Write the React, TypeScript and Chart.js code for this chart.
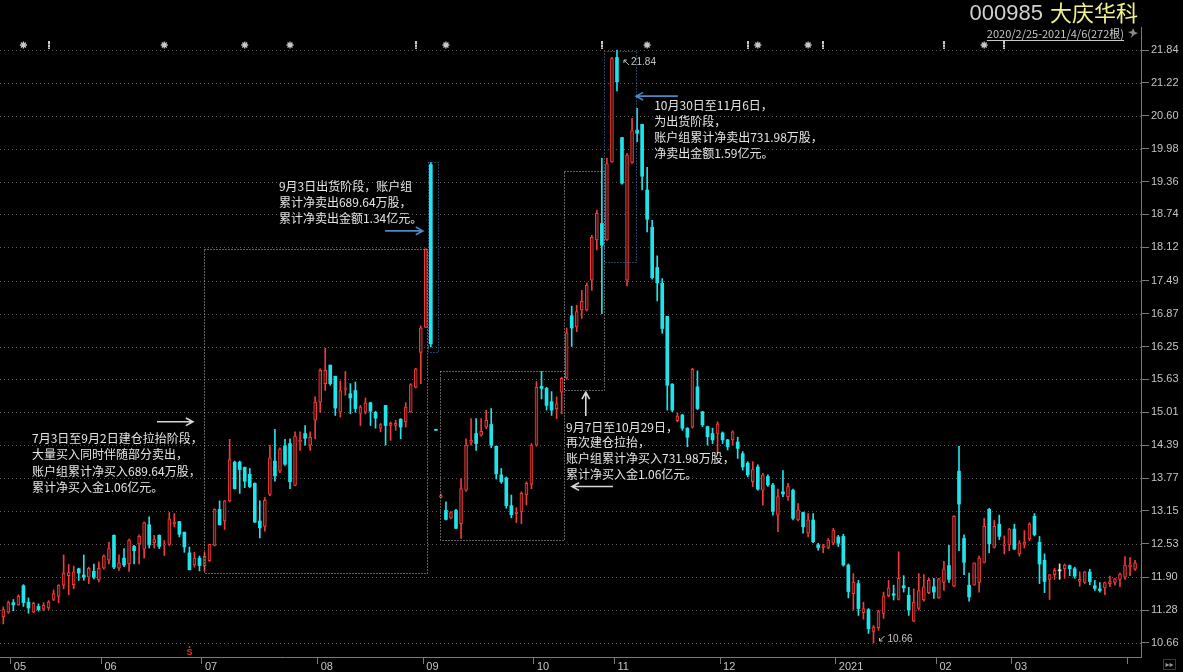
import React, { useEffect, useRef } from 'react';
import { Chart, registerables } from 'chart.js';

Chart.register(...registerables);

// ---------- data (daily candles, 2020-04-29 .. 2021-04-02) ----------
const opens = [
  11.15, 11.24, 11.42, 11.38, 11.74, 11.43, 11.24, 11.35, 11.30, 11.32,
  11.48, 11.54, 11.75, 11.93, 11.76, 12.06, 11.94, 11.90, 12.01, 11.85,
  12.07, 12.22, 12.69, 12.07, 12.26, 12.15, 12.48, 12.53, 12.43, 12.89,
  12.55, 12.69, 12.51, 12.52, 12.91, 12.95, 12.75, 12.36, 12.13, 12.26,
  12.11, 12.21, 12.50, 13.18, 12.96, 13.34, 14.07, 14.07, 13.97, 13.84,
  13.67, 12.96, 12.86, 13.46, 14.09, 13.90, 14.38, 14.42, 13.63, 14.45,
  14.61, 14.39, 14.86, 15.20, 15.55, 15.90, 15.69, 15.01, 15.44, 15.36,
  15.42, 14.99, 15.01, 15.19, 15.01, 14.71, 15.14, 14.76, 14.76, 14.88,
  14.83, 15.01, 15.48, 16.14, 16.61, 19.68, 14.69, 13.41, 13.16, 13.02,
  13.16, 12.91, 13.54, 14.44, 14.61, 14.58, 14.73, 14.78, 14.37, 13.83,
  13.77, 13.25, 13.10, 13.13, 13.45, 13.65, 14.39, 15.50, 15.46, 15.21,
  15.08, 15.39, 15.66, 16.83, 16.62, 16.94, 16.94, 17.50, 18.26, 18.57,
  18.26, 19.73, 21.70, 20.19, 17.50, 19.72, 20.33, 20.44, 19.20, 18.50,
  17.74, 17.44, 16.82, 15.54, 14.85, 14.96, 14.71, 14.73, 15.49, 15.02,
  14.74, 14.61, 14.61, 14.62, 14.49, 14.49, 14.45, 14.23, 14.05, 13.70,
  13.98, 13.54, 13.80, 13.64, 13.07, 13.51, 13.42, 13.54, 12.98, 13.12,
  12.73, 12.98, 12.51, 12.46, 12.46, 12.54, 12.66, 12.67, 12.13, 11.59,
  11.78, 11.23, 11.29, 10.88, 10.95, 11.22, 11.55, 11.59, 11.48, 11.74,
  11.56, 11.07, 11.31, 11.47, 11.61, 11.72, 11.51, 11.80, 12.12, 11.73,
  13.90, 12.63, 11.75, 11.75, 11.80, 12.18, 13.18, 12.46, 12.90, 12.50,
  12.51, 12.81, 12.34, 12.52, 12.62, 13.05, 12.56, 12.22, 11.86, 11.95,
  12.02, 12.06, 12.12, 12.06, 11.82, 11.80, 12.00, 11.74, 11.68, 11.70,
  11.78, 11.80, 11.86, 11.90, 12.10, 12.05,
];
const highs = [
  11.34, 11.45, 11.48, 11.57, 11.76, 11.51, 11.43, 11.40, 11.42, 11.46,
  11.66, 11.76, 12.32, 12.14, 12.11, 12.07, 12.32, 12.09, 12.15, 12.19,
  12.32, 12.56, 12.70, 12.32, 12.44, 12.62, 12.50, 12.70, 12.94, 13.04,
  12.69, 12.70, 12.59, 13.12, 13.10, 12.95, 12.75, 12.47, 12.37, 12.30,
  12.37, 12.52, 13.19, 13.34, 13.35, 14.50, 14.09, 14.09, 13.98, 13.95,
  13.68, 13.34, 13.40, 14.39, 14.69, 14.34, 14.50, 14.51, 14.64, 14.64,
  14.76, 14.64, 15.30, 15.83, 16.22, 15.90, 15.69, 15.60, 15.78, 15.55,
  15.58, 15.14, 15.28, 15.20, 15.03, 14.80, 15.14, 14.83, 14.86, 14.89,
  15.19, 15.55, 15.84, 16.64, 18.09, 19.72, 14.69, 13.47, 13.32, 13.14,
  13.18, 13.76, 14.51, 14.89, 14.89, 14.89, 15.05, 15.08, 14.37, 13.95,
  13.79, 13.45, 13.21, 13.51, 13.70, 14.42, 15.59, 15.78, 15.48, 15.40,
  15.30, 15.67, 16.60, 17.01, 17.03, 17.31, 17.45, 18.35, 18.82, 19.80,
  19.80, 21.70, 21.84, 20.19, 19.89, 20.55, 20.74, 20.44, 19.63, 18.63,
  17.96, 17.53, 16.82, 15.55, 15.00, 14.97, 14.72, 15.84, 15.79, 15.03,
  14.75, 14.71, 14.83, 14.64, 14.50, 14.66, 14.54, 14.27, 14.08, 14.08,
  14.02, 13.86, 13.83, 13.67, 13.56, 13.91, 13.67, 13.56, 13.29, 13.13,
  13.10, 13.10, 12.54, 12.52, 12.63, 12.82, 12.69, 12.71, 12.15, 11.97,
  11.84, 11.43, 11.31, 10.99, 11.28, 11.62, 11.84, 11.75, 12.38, 11.93,
  11.71, 11.68, 11.97, 11.95, 11.88, 11.88, 11.88, 12.20, 12.50, 13.06,
  14.37, 12.70, 11.98, 12.17, 12.30, 13.01, 13.20, 12.97, 13.07, 12.68,
  12.82, 12.90, 12.59, 12.78, 12.93, 13.10, 12.67, 12.34, 11.95, 12.07,
  12.15, 12.15, 12.13, 12.09, 12.00, 12.01, 12.05, 11.84, 11.80, 11.81,
  11.92, 11.88, 11.98, 12.29, 12.27, 12.22,
];
const lows = [
  11.02, 11.22, 11.27, 11.37, 11.35, 11.22, 11.23, 11.26, 11.27, 11.29,
  11.46, 11.42, 11.68, 11.57, 11.68, 11.84, 11.84, 11.78, 11.87, 11.81,
  12.05, 12.15, 12.06, 12.03, 12.10, 12.01, 12.15, 12.15, 12.26, 12.45,
  12.45, 12.44, 12.31, 12.50, 12.85, 12.66, 12.37, 12.04, 12.09, 12.02,
  12.02, 12.20, 12.49, 12.88, 12.80, 13.32, 13.56, 13.48, 13.59, 13.59,
  12.93, 12.64, 12.77, 13.44, 13.71, 13.87, 14.01, 13.57, 13.62, 14.29,
  14.39, 14.29, 14.51, 15.01, 15.42, 15.52, 14.95, 14.92, 15.33, 14.98,
  15.01, 14.76, 14.98, 14.76, 14.71, 14.64, 14.39, 14.48, 14.67, 14.51,
  14.73, 15.01, 15.47, 15.55, 16.61, 16.24, 14.67, 13.40, 12.98, 13.00,
  12.82, 12.63, 13.52, 14.39, 14.29, 14.56, 14.70, 14.34, 13.75, 13.67,
  13.20, 13.02, 12.93, 12.91, 13.26, 13.57, 14.37, 15.26, 15.05, 14.95,
  14.89, 14.98, 15.63, 16.25, 16.53, 16.78, 16.92, 17.31, 18.07, 16.87,
  18.25, 19.72, 21.07, 19.31, 17.39, 19.70, 20.11, 19.20, 18.41, 17.52,
  17.11, 16.50, 15.05, 15.02, 14.83, 14.67, 14.36, 14.71, 15.06, 14.74,
  14.39, 14.42, 14.23, 14.42, 14.30, 14.39, 14.14, 13.92, 13.79, 13.61,
  13.54, 13.26, 13.61, 13.07, 12.76, 13.42, 13.35, 12.98, 12.96, 12.73,
  12.66, 12.55, 12.41, 12.36, 12.44, 12.51, 12.48, 12.11, 11.51, 11.28,
  11.18, 11.11, 10.84, 10.66, 10.90, 11.12, 11.53, 11.47, 11.47, 11.62,
  11.18, 11.06, 11.28, 11.45, 11.59, 11.50, 11.50, 11.65, 11.80, 11.72,
  12.40, 11.95, 11.45, 11.75, 11.62, 12.17, 12.36, 12.45, 12.61, 12.34,
  12.40, 12.42, 12.30, 12.45, 12.59, 12.68, 11.78, 11.61, 11.48, 11.86,
  11.86, 11.88, 11.93, 11.88, 11.73, 11.78, 11.76, 11.65, 11.62, 11.57,
  11.72, 11.75, 11.72, 11.86, 11.93, 12.03,
];
const closes = [
  11.29, 11.42, 11.38, 11.54, 11.42, 11.32, 11.41, 11.29, 11.37, 11.43,
  11.59, 11.75, 11.98, 11.99, 12.00, 11.98, 11.90, 12.07, 11.90, 12.07,
  12.30, 12.44, 12.09, 12.17, 12.13, 12.60, 12.40, 12.67, 12.93, 12.51,
  12.61, 12.48, 12.53, 13.00, 12.94, 12.71, 12.47, 12.04, 12.26, 12.12,
  12.30, 12.52, 13.18, 12.89, 13.34, 14.12, 13.57, 13.93, 13.71, 13.61,
  12.94, 12.83, 13.35, 14.15, 13.81, 14.32, 14.03, 13.70, 14.56, 14.48,
  14.52, 14.54, 15.20, 15.80, 15.80, 15.55, 15.09, 15.42, 15.47, 15.28,
  15.08, 15.11, 15.19, 15.03, 14.90, 14.78, 14.76, 14.80, 14.80, 14.73,
  15.11, 15.53, 15.83, 16.60, 18.09, 16.30, 14.67, 13.44, 12.99, 13.12,
  12.82, 13.57, 14.39, 14.48, 14.42, 14.65, 14.86, 14.39, 13.85, 13.70,
  13.25, 13.08, 13.13, 13.48, 13.67, 14.39, 15.48, 15.46, 15.14, 15.05,
  15.17, 15.65, 16.51, 16.60, 16.91, 17.10, 17.41, 18.31, 18.76, 18.16,
  19.70, 21.68, 21.24, 19.33, 19.86, 20.32, 20.27, 19.46, 18.65, 17.55,
  17.45, 16.59, 15.52, 15.05, 14.94, 14.71, 14.54, 15.82, 15.08, 14.77,
  14.55, 14.49, 14.79, 14.49, 14.36, 14.64, 14.33, 13.98, 13.83, 13.93,
  13.56, 13.83, 13.64, 13.14, 13.42, 13.47, 13.61, 13.01, 13.17, 12.85,
  12.98, 12.57, 12.46, 12.49, 12.60, 12.79, 12.54, 12.13, 11.63, 11.81,
  11.31, 11.31, 10.93, 10.96, 11.25, 11.55, 11.70, 11.56, 11.88, 11.70,
  11.28, 11.43, 11.65, 11.72, 11.84, 11.62, 11.87, 12.06, 11.86, 13.05,
  13.28, 12.18, 11.53, 12.17, 12.26, 12.86, 12.53, 12.86, 12.67, 12.53,
  12.81, 12.43, 12.55, 12.56, 12.90, 12.70, 12.15, 11.82, 11.95, 12.03,
  12.02, 12.13, 12.06, 11.92, 11.86, 12.00, 11.82, 11.69, 11.65, 11.80,
  11.82, 11.87, 11.96, 12.13, 12.13, 12.17,
];

const priceTicks = [21.84, 21.22, 20.6, 19.98, 19.36, 18.74, 18.12, 17.49, 16.87, 16.25, 15.63, 15.01, 14.39, 13.77, 13.15, 12.53, 11.9, 11.28, 10.66];
const monthTickIdx = [1.5, 19.5, 39.5, 62.5, 83.5, 105.5, 121.5, 142.5, 165.5, 185.5, 200.5, 223.5];
const monthTickLabels = ['05', '06', '07', '08', '09', '10', '11', '12', '2021', '02', '03', ''];
const starMarkerIdx = [4, 32, 48, 57, 88, 128, 150, 160, 195];
const barMarkerIdx = [9, 82, 119, 148, 163, 187, 199];
const sellSignalIdx = [37];

const stockCode = '000985';
const stockName = '大庆华科';
const rangeText = '2020/2/25-2021/4/6(272根)';

const notes = [
  { x: 5.71, y: 14.525, lh: 16.5, lines: ['7月3日至9月2日建仓拉抬阶段，', '大量买入同时伴随部分卖出，', '账户组累计净买入689.64万股，', '累计净买入金1.06亿元。'] },
  { x: 54.8, y: 19.276, lh: 16, lines: ['9月3日出货阶段，账户组', '累计净卖出689.64万股，', '累计净卖出金额1.34亿元。'] },
  { x: 129.4, y: 20.79, lh: 16, lines: ['10月30日至11月6日，', '为出货阶段，', '账户组累计净卖出731.98万股，', '净卖出金额1.59亿元。'] },
  { x: 111.87, y: 14.732, lh: 15.7, lines: ['9月7日至10月29日，', '再次建仓拉抬，', '账户组累计净买入731.98万股，', '累计净买入金1.06亿元。'] },
];

const WHITE_LINE = '#bdbdbd';
const BLUE_LINE = '#4a7fb8';
const boxes = [
  { x0: 39.96, x1: 84.17, y0: 11.98, y1: 18.08, color: WHITE_LINE },
  { x0: 84.37, x1: 86.48, y0: 16.14, y1: 19.72, color: BLUE_LINE },
  { x0: 86.88, x1: 111.53, y0: 12.6, y1: 15.79, color: WHITE_LINE },
  { x0: 111.53, x1: 119.48, y0: 15.43, y1: 19.55, color: WHITE_LINE },
  { x0: 119.48, x1: 125.73, y0: 17.84, y1: 21.82, color: BLUE_LINE },
];
const arrows = [
  { x0: 30.55, y0: 14.83, x1: 37.7, y1: 14.83, color: '#d8d8d8' },
  { x0: 75.9, y0: 18.43, x1: 83.4, y1: 18.43, color: '#4f86c6' },
  { x0: 134.1, y0: 20.97, x1: 125.8, y1: 20.97, color: '#4f86c6' },
  { x0: 115.8, y0: 14.94, x1: 115.8, y1: 15.39, color: '#d8d8d8' },
  { x0: 121.2, y0: 13.61, x1: 113.06, y1: 13.61, color: '#d8d8d8' },
];

const RED = '#ef3b3b';
const UPFILL = '#4e1414';
const CYAN = '#1ee4ec';
const FLAT = '#e0e0e0';
const GRID = '#5a5a5a';
const AXIS = '#7a7a7a';
const LABEL = '#c4c4c4';

const X_MIN = -0.656;
const X_MAX = 226.18;
const Y_MIN = 10.396;
const Y_MAX = 22.274;

function drawArrow(ctx: CanvasRenderingContext2D, x0: number, y0: number, x1: number, y1: number, color: string) {
  const ang = Math.atan2(y1 - y0, x1 - x0);
  const head = 8;
  ctx.save();
  ctx.strokeStyle = color;
  ctx.lineWidth = 1.6;
  ctx.beginPath();
  ctx.moveTo(x0, y0);
  ctx.lineTo(x1, y1);
  ctx.moveTo(x1 - head * Math.cos(ang - 0.5), y1 - head * Math.sin(ang - 0.5));
  ctx.lineTo(x1, y1);
  ctx.lineTo(x1 - head * Math.cos(ang + 0.5), y1 - head * Math.sin(ang + 0.5));
  ctx.stroke();
  ctx.restore();
}

export default function App() {
  const canvasRef = useRef<HTMLCanvasElement | null>(null);

  useEffect(() => {
    document.body.style.margin = '0';
    document.body.style.background = '#000';
    const canvas = canvasRef.current;
    if (!canvas) return;
    const N = closes.length;
    const ids = Array.from({ length: N }, (_, i) => i);
    const colorOf = (i: number) => (closes[i] > opens[i] ? RED : closes[i] < opens[i] ? CYAN : FLAT);
    const fillOf = (i: number) => (closes[i] > opens[i] ? UPFILL : colorOf(i));

    const deco = {
      id: 'deco',
      beforeDraw(chart: any) {
        const ctx = chart.ctx as CanvasRenderingContext2D;
        ctx.save();
        ctx.fillStyle = '#000';
        ctx.fillRect(0, 0, chart.width, chart.height);
        ctx.restore();
      },
      beforeDatasetsDraw(chart: any) {
        const ctx = chart.ctx as CanvasRenderingContext2D;
        const { left, right } = chart.chartArea;
        const ys = chart.scales.y;
        ctx.save();
        ctx.strokeStyle = GRID;
        ctx.lineWidth = 1;
        ctx.setLineDash([1, 3]);
        priceTicks.forEach((v) => {
          const y = Math.round(ys.getPixelForValue(v)) + 0.5;
          ctx.beginPath();
          ctx.moveTo(left, y);
          ctx.lineTo(right, y);
          ctx.stroke();
        });
        ctx.restore();
      },
      afterDatasetsDraw(chart: any) {
        const ctx = chart.ctx as CanvasRenderingContext2D;
        const xs = chart.scales.x;
        const ys = chart.scales.y;
        const px = (v: number) => xs.getPixelForValue(v);
        const py = (v: number) => ys.getPixelForValue(v);
        const top = chart.chartArea.top;

        // dotted boxes
        ctx.save();
        ctx.lineWidth = 1;
        ctx.setLineDash([1, 2]);
        boxes.forEach((b) => {
          ctx.strokeStyle = b.color;
          const x0 = Math.round(px(b.x0)) + 0.5;
          const x1 = Math.round(px(b.x1)) + 0.5;
          const y0 = Math.round(py(b.y1)) + 0.5;
          const y1 = Math.round(py(b.y0)) + 0.5;
          ctx.strokeRect(x0, y0, x1 - x0, y1 - y0);
        });
        ctx.restore();

        // arrows
        arrows.forEach((a) => drawArrow(ctx, px(a.x0), py(a.y0), px(a.x1), py(a.y1), a.color));

        // notes
        ctx.save();
        ctx.fillStyle = '#e4e4e4';
        ctx.font = '12px "Noto Sans CJK SC", sans-serif';
        ctx.textBaseline = 'middle';
        ctx.textAlign = 'left';
        notes.forEach((n) => {
          const x = px(n.x);
          const y = py(n.y);
          n.lines.forEach((line, k) => ctx.fillText(line, x, y + k * n.lh));
        });
        ctx.restore();

        // max / min labels
        let iMax = 0;
        let iMin = 0;
        for (let i = 0; i < N; i++) {
          if (highs[i] > highs[iMax]) iMax = i;
          if (lows[i] < lows[iMin]) iMin = i;
        }
        ctx.save();
        ctx.fillStyle = LABEL;
        ctx.strokeStyle = LABEL;
        ctx.lineWidth = 1;
        ctx.font = '10px "Liberation Sans", sans-serif';
        ctx.textBaseline = 'middle';
        {
          const x = px(iMax) + 7;
          const y = py(highs[iMax]) + 12;
          ctx.beginPath();
          ctx.moveTo(x + 5, y + 3);
          ctx.lineTo(x, y - 2);
          ctx.moveTo(x, y - 2);
          ctx.lineTo(x + 3, y - 2);
          ctx.moveTo(x, y - 2);
          ctx.lineTo(x, y + 1);
          ctx.stroke();
          ctx.fillText(highs[iMax].toFixed(2), x + 7, y);
        }
        {
          const x = px(iMin) + 6;
          const y = py(lows[iMin]) - 4;
          ctx.beginPath();
          ctx.moveTo(x + 5, y - 3);
          ctx.lineTo(x, y + 2);
          ctx.moveTo(x, y + 2);
          ctx.lineTo(x + 3, y + 2);
          ctx.moveTo(x, y + 2);
          ctx.lineTo(x, y - 1);
          ctx.stroke();
          ctx.fillText(lows[iMin].toFixed(2), x + 8, y);
        }
        ctx.restore();

        // event markers at the top
        ctx.save();
        const my = top + 18;
        ctx.strokeStyle = '#c8c8c8';
        ctx.fillStyle = '#c8c8c8';
        ctx.lineWidth = 1.3;
        starMarkerIdx.forEach((i) => {
          const x = px(i);
          ctx.beginPath();
          for (let k = 0; k < 4; k++) {
            const a = (k * Math.PI) / 4;
            ctx.moveTo(x - 3.5 * Math.cos(a), my - 3.5 * Math.sin(a));
            ctx.lineTo(x + 3.5 * Math.cos(a), my + 3.5 * Math.sin(a));
          }
          ctx.stroke();
          ctx.beginPath();
          ctx.arc(x, my, 1.6, 0, Math.PI * 2);
          ctx.fill();
        });
        barMarkerIdx.forEach((i) => {
          const x = Math.round(px(i));
          ctx.fillRect(x - 1, my - 4, 2, 8);
          ctx.fillStyle = '#777';
          ctx.fillRect(x - 1, my - 1, 2, 1);
          ctx.fillRect(x - 1, my + 2, 2, 1);
          ctx.fillStyle = '#c8c8c8';
        });
        ctx.restore();

        // sell signal marker near the bottom
        ctx.save();
        ctx.fillStyle = '#ff2a2a';
        ctx.font = 'bold 9px "Liberation Sans", sans-serif';
        ctx.textAlign = 'center';
        ctx.textBaseline = 'middle';
        sellSignalIdx.forEach((i) => {
          const x = px(i);
          const yb = chart.chartArea.bottom;
          ctx.fillText('S', x, yb - 4);
          ctx.beginPath();
          ctx.arc(x, yb - 10, 1, 0, Math.PI * 2);
          ctx.fill();
        });
        ctx.restore();
      },
      afterDraw(chart: any) {
        const ctx = chart.ctx as CanvasRenderingContext2D;
        const right = chart.chartArea.right;
        ctx.save();
        ctx.textBaseline = 'middle';
        ctx.textAlign = 'right';
        ctx.font = '22px "Noto Sans CJK SC", sans-serif';
        ctx.fillStyle = '#f2ef8f';
        const nameRight = right - 3;
        ctx.fillText(stockName, nameRight, 13);
        const wName = ctx.measureText(stockName).width;
        ctx.font = '22px "Liberation Sans", sans-serif';
        ctx.fillStyle = '#d0d0d0';
        ctx.fillText(stockCode, nameRight - wName - 7, 14);

        ctx.font = '11px "Noto Sans CJK SC", sans-serif';
        ctx.fillStyle = '#c8c8c8';
        const rRight = right - 17;
        ctx.fillText(rangeText, rRight, 34);
        const wR = ctx.measureText(rangeText).width;
        ctx.fillRect(rRight - wR, 40, wR, 1);

        // pin icon
        ctx.fillStyle = '#8a8a8a';
        ctx.beginPath();
        const cx = right - 8;
        const cy = 33;
        ctx.moveTo(cx, cy - 5);
        ctx.lineTo(cx + 2, cy - 1);
        ctx.lineTo(cx + 5, cy);
        ctx.lineTo(cx + 1, cy + 2);
        ctx.lineTo(cx - 2, cy + 5);
        ctx.lineTo(cx - 1, cy + 1);
        ctx.lineTo(cx - 5, cy - 1);
        ctx.lineTo(cx - 1, cy - 2);
        ctx.closePath();
        ctx.fill();

        // scroll button bottom right
        ctx.strokeStyle = '#3a3a3a';
        ctx.lineWidth = 1;
        ctx.strokeRect(1163.5, 659.5, 12, 10);
        ctx.fillStyle = '#9a9a9a';
        ctx.font = '8px "DejaVu Sans", sans-serif';
        ctx.textAlign = 'center';
        ctx.fillText('▸▸', 1169.5, 665);
        ctx.restore();
      },
    };

    const chart = new Chart(canvas, {
      type: 'bar',
      data: {
        datasets: [
          {
            label: 'body',
            data: ids.map((i) => ({ x: i, y: [opens[i], closes[i]] })) as any,
            backgroundColor: ids.map(fillOf),
            borderColor: ids.map(colorOf),
            borderWidth: ids.map((i) => (closes[i] > opens[i] ? 1 : 0)),
            borderSkipped: false,
            barThickness: 3,
            minBarLength: 1,
            grouped: false,
            order: 0,
          } as any,
          {
            label: 'wick',
            data: ids.map((i) => ({ x: i, y: [lows[i], highs[i]] })) as any,
            backgroundColor: ids.map(colorOf),
            borderWidth: 0,
            barThickness: 1,
            minBarLength: 1,
            grouped: false,
            order: 1,
          } as any,
        ],
      },
      options: {
        responsive: false,
        animation: false,
        devicePixelRatio: 1,
        events: [],
        layout: { padding: { top: 27, left: 0, right: 0, bottom: 0 } },
        plugins: { legend: { display: false }, tooltip: { enabled: false }, title: { display: false } },
        scales: {
          x: {
            type: 'linear',
            min: X_MIN,
            max: X_MAX,
            offset: false,
            afterBuildTicks: (s: any) => {
              s.ticks = monthTickIdx.map((v) => ({ value: v }));
            },
            afterFit: (s: any) => {
              s.height = 15;
            },
            grid: { offset: false, drawOnChartArea: false, drawTicks: true, tickLength: 7, color: AXIS },
            border: { display: true, color: AXIS },
            ticks: {
              autoSkip: false,
              maxRotation: 0,
              minRotation: 0,
              align: 'start',
              labelOffset: 3,
              padding: -4,
              color: LABEL,
              font: { family: 'Liberation Sans', size: 11 },
              callback: (v: any) => {
                const k = monthTickIdx.indexOf(Number(v));
                return k >= 0 ? monthTickLabels[k] : '';
              },
            },
          },
          y: {
            type: 'linear',
            position: 'right',
            min: Y_MIN,
            max: Y_MAX,
            afterBuildTicks: (s: any) => {
              s.ticks = priceTicks.map((v) => ({ value: v }));
            },
            afterFit: (s: any) => {
              s.width = 42;
            },
            grid: { offset: false, drawOnChartArea: false, drawTicks: true, tickLength: 8, color: AXIS },
            border: { display: true, color: AXIS },
            ticks: {
              autoSkip: false,
              padding: 2,
              color: LABEL,
              font: { family: 'Liberation Sans', size: 11 },
              callback: (v: any) => Number(v).toFixed(2),
            },
          },
        },
      } as any,
      plugins: [deco],
    });
    return () => chart.destroy();
  }, []);

  return (
    <div style={{ width: 1183, height: 672, background: '#000' }}>
      <canvas ref={canvasRef} width={1183} height={672} style={{ display: 'block' }} />
    </div>
  );
}
